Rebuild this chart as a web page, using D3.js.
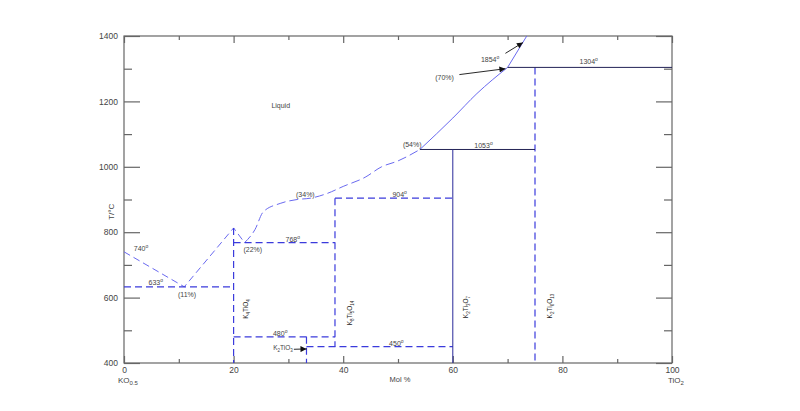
<!DOCTYPE html>
<html><head><meta charset="utf-8">
<script src="https://cdn.jsdelivr.net/npm/d3@7"></script>
<style>body{margin:0;background:#fff}svg{display:block;font-family:"Liberation Sans",Arial,sans-serif}</style>
</head><body><svg id="c" width="800" height="411"></svg>
<script>
// ---- data ----
const xTicks = [0, 20, 40, 60, 80, 100];
const xMinor = [10, 30, 50, 70, 90];
const yTicks = [400, 600, 800, 1000, 1200, 1400];
const yMinor = [500, 700, 900, 1100, 1300];
// liquidus, dashed part (mol % TiO2, T/°C)
const liqA = [[0, 740], [11, 633], [20, 813], [22, 768]];
const liqB = [[22, 768], [23.9, 808], [25.4, 862], [28.5, 888], [31.6, 900], [34, 904], [37, 918], [40, 940], [44, 968], [47, 1000], [50, 1018], [54, 1053]];
// liquidus, solid part
const liqC = [[54, 1053], [60, 1149], [64.4, 1224], [70, 1304]];
const liqD = [[70, 1304], [73.5, 1400]];
// invariant (horizontal) lines: [from %, to %, T]
const dashedH = [[0, 20, 633], [20, 38.5, 768], [38.5, 60, 904], [20, 38.5, 480], [33.3, 60, 450]];
const solidH = [[54, 75, 1053], [70, 100, 1304]];
// compound (vertical) lines: [%, top T, bottom T]
const dashedV = [[20, 813, 400], [38.5, 904, 450], [33.3, 480, 400], [75, 1304, 400]];
const solidV = [[60, 1053, 400]];
// annotations: [text, %, T, superscript]
const notes = [
  ["740", 3.1, 743, "o"], ["633", 5.8, 640, "o"], ["(11%)", 11.5, 601, ""],
  ["(22%)", 23.5, 739, ""], ["768", 30.8, 770, "o"], ["(34%)", 33.1, 908, ""],
  ["904", 50.3, 908, "o"], ["(54%)", 52.6, 1061, ""], ["1053", 65.6, 1058, "o"],
  ["(70%)", 58.5, 1266, ""], ["1854", 66.8, 1320, "o"], ["1304", 84.8, 1315, "o"],
  ["480", 28.5, 482, "o"], ["450", 49.7, 452, "o"]
];
const compounds = [["K", "4", "TiO", "4", 22.0, 565], ["K", "8", "Ti", "5", 41.0, 553], ["K", "2", "Ti", "3", 62.2, 571], ["K", "2", "Ti", "6", 77.6, 574]];
const compoundO = ["O4", "O14", "O7", "O13"];

// ---- chart ----
const svg = d3.select("#c");
const x = d3.scaleLinear().domain([0, 100]).range([124, 672]);
const y = d3.scaleLinear().domain([400, 1400]).range([363, 36]);
const axisCol = "#666", txtCol = "#444";
const blue = "#3b3bdc", liqBlue = "#6a6af0";

// frame
const g = svg.append("g");
g.append("rect").attr("x", x(0)).attr("y", y(1400)).attr("width", x(100) - x(0)).attr("height", y(400) - y(1400))
  .attr("fill", "none").attr("stroke", axisCol).attr("stroke-width", 1.2);

// axes via d3 axis (inner ticks)
const fs = 8.5;
function styleAxis(sel) { sel.select(".domain").remove(); sel.selectAll("line").attr("stroke", axisCol).attr("stroke-width", 1.2); sel.selectAll("text").attr("fill", txtCol).attr("font-size", fs).attr("font-family", "Liberation Sans, Arial"); }
svg.append("g").attr("transform", `translate(0,${y(400)})`)
  .call(d3.axisBottom(x).tickValues(xTicks).tickSizeInner(-7).tickPadding(4).tickFormat(d3.format("d"))).call(styleAxis);
svg.append("g").attr("transform", `translate(0,${y(400)})`)
  .call(d3.axisBottom(x).tickValues(xMinor).tickSizeInner(-4).tickFormat("")).call(styleAxis);
svg.append("g").attr("transform", `translate(0,${y(1400)})`)
  .call(d3.axisTop(x).tickValues(xTicks).tickSizeInner(-7).tickFormat("")).call(styleAxis);
svg.append("g").attr("transform", `translate(0,${y(1400)})`)
  .call(d3.axisTop(x).tickValues(xMinor).tickSizeInner(-4).tickFormat("")).call(styleAxis);
svg.append("g").attr("transform", `translate(${x(0)},0)`)
  .call(d3.axisLeft(y).tickValues(yTicks).tickSizeInner(-16).tickPadding(6).tickFormat(d3.format("d"))).call(styleAxis);
svg.append("g").attr("transform", `translate(${x(0)},0)`)
  .call(d3.axisLeft(y).tickValues(yMinor).tickSizeInner(-8).tickFormat("")).call(styleAxis);
svg.append("g").attr("transform", `translate(${x(100)},0)`)
  .call(d3.axisRight(y).tickValues(yTicks).tickSizeInner(-16).tickFormat("")).call(styleAxis);
svg.append("g").attr("transform", `translate(${x(100)},0)`)
  .call(d3.axisRight(y).tickValues(yMinor).tickSizeInner(-8).tickFormat("")).call(styleAxis);

// axis end labels
const t1 = svg.append("text").attr("x", x(0) - 6).attr("y", y(400) + 20).attr("font-size", 8).attr("fill", txtCol).text("KO");
t1.append("tspan").attr("font-size", 6).attr("dy", 2).text("0.5");
const t2 = svg.append("text").attr("x", x(100) - 4).attr("y", y(400) + 20).attr("font-size", 8).attr("fill", txtCol).text("TiO");
t2.append("tspan").attr("font-size", 6).attr("dy", 2).text("2");
svg.append("text").attr("x", x(50) + 2).attr("y", y(400) + 19).attr("text-anchor", "middle").attr("font-size", 7.5).attr("fill", txtCol).text("Mol %");
svg.append("text").attr("transform", `translate(${x(0) - 10},${y(1000) + 45}) rotate(-90)`).attr("text-anchor", "middle").attr("font-size", 8).attr("fill", txtCol).text("T/\u00B0C");

// lines
const line = d3.line().x(d => x(d[0])).y(d => y(d[1]));
const curve = d3.line().x(d => x(d[0])).y(d => y(d[1])).curve(d3.curveMonotoneX);
svg.append("path").attr("d", line(liqA)).attr("fill", "none").attr("stroke", liqBlue).attr("stroke-width", 1).attr("stroke-dasharray", "7,4");
svg.append("path").attr("d", curve(liqB)).attr("fill", "none").attr("stroke", liqBlue).attr("stroke-width", 1).attr("stroke-dasharray", "9,4");
svg.append("path").attr("d", curve(liqC)).attr("fill", "none").attr("stroke", liqBlue).attr("stroke-width", 1);
svg.append("path").attr("d", line(liqD)).attr("fill", "none").attr("stroke", liqBlue).attr("stroke-width", 1);

svg.selectAll(".dh").data(dashedH).join("line")
  .attr("x1", d => x(d[0])).attr("x2", d => x(d[1])).attr("y1", d => y(d[2])).attr("y2", d => y(d[2]))
  .attr("stroke", blue).attr("stroke-width", 1.2).attr("stroke-dasharray", "7,4");
svg.selectAll(".dv").data(dashedV).join("line")
  .attr("x1", d => x(d[0])).attr("x2", d => x(d[0])).attr("y1", d => y(d[1])).attr("y2", d => y(d[2]))
  .attr("stroke", blue).attr("stroke-width", 1.2).attr("stroke-dasharray", "7,4");
svg.selectAll(".sh").data(solidH).join("line")
  .attr("x1", d => x(d[0])).attr("x2", d => x(d[1])).attr("y1", d => y(d[2])).attr("y2", d => y(d[2]))
  .attr("stroke", "#222255").attr("stroke-width", 1);
svg.selectAll(".sv").data(solidV).join("line")
  .attr("x1", d => x(d[0])).attr("x2", d => x(d[0])).attr("y1", d => y(d[1])).attr("y2", d => y(d[2]))
  .attr("stroke", "#2a2a9a").attr("stroke-width", 1);

// annotations
svg.selectAll(".nt").data(notes).join("text")
  .attr("x", d => x(d[1])).attr("y", d => y(d[2])).attr("text-anchor", "middle")
  .attr("font-size", 7).attr("fill", txtCol)
  .each(function (d) {
    const s = d3.select(this); s.text(d[0]);
    if (d[3]) s.append("tspan").attr("font-size", 5).attr("dy", -3).text(d[3]);
  });
svg.append("text").attr("x", x(28.6)).attr("y", y(1180)).attr("text-anchor", "middle").attr("font-size", 7).attr("fill", txtCol).text("Liquid");

// K2TiO3 label + arrow
const kt = svg.append("text").attr("x", x(30.8)).attr("y", y(440)).attr("text-anchor", "end").attr("font-size", 6.5).attr("fill", txtCol).text("K");
kt.append("tspan").attr("font-size", 4.5).attr("dy", 2).text("2");
kt.append("tspan").attr("dy", -2).text("TiO");
kt.append("tspan").attr("font-size", 4.5).attr("dy", 2).text("3");

const defs = svg.append("defs");
defs.append("marker").attr("id", "ah").attr("viewBox", "0 0 10 10").attr("refX", 10).attr("refY", 5)
  .attr("markerWidth", 9).attr("markerHeight", 6).attr("orient", "auto").attr("markerUnits", "userSpaceOnUse")
  .append("path").attr("d", "M0,0L10,5L0,10Z").attr("fill", "#111");
const arrows = [[31, 442, 33.3, 443], [61.2, 1282, 69.6, 1300], [69.6, 1347, 72.8, 1380]];
svg.selectAll(".ar").data(arrows).join("line")
  .attr("x1", d => x(d[0])).attr("y1", d => y(d[1])).attr("x2", d => x(d[2])).attr("y2", d => y(d[3]))
  .attr("stroke", "#111").attr("stroke-width", 0.9).attr("marker-end", "url(#ah)");

// compound labels (rotated)
compounds.forEach((c, i) => {
  const t = svg.append("text").attr("transform", `translate(${x(c[4]) + 3},${y(c[5])}) rotate(-90)`)
    .attr("text-anchor", "middle").attr("font-size", 6.5).attr("fill", "#222");
  t.append("tspan").text(c[0]);
  t.append("tspan").attr("font-size", 4.5).attr("dy", 2).text(c[1]);
  t.append("tspan").attr("dy", -2).text(c[2]);
  t.append("tspan").attr("font-size", 4.5).attr("dy", 2).text(c[3]);
  if (i > 0) { t.append("tspan").attr("dy", -2).text("O"); t.append("tspan").attr("font-size", 4.5).attr("dy", 2).text(compoundO[i].slice(1)); }
});
</script></body></html>
